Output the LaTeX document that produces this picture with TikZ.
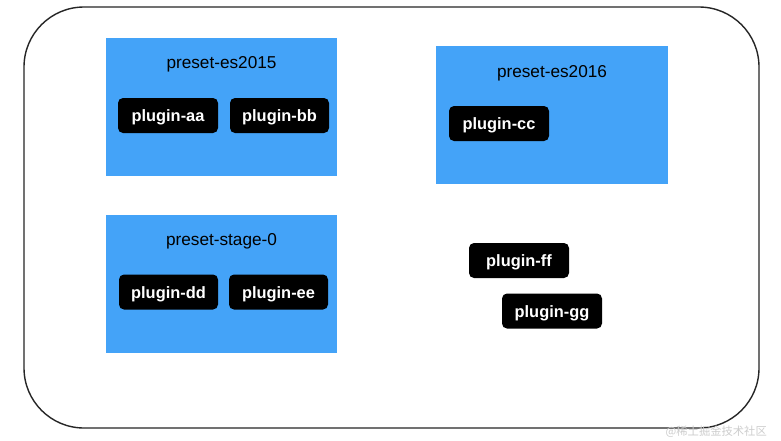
\documentclass[tikz,border=0pt]{standalone}
\usepackage{fontspec}
\setmainfont{Liberation Sans}
\newfontfamily\cjkfont{Noto Sans CJK SC}
\definecolor{presetblue}{RGB}{68,163,248}
\definecolor{wmgray}{RGB}{205,205,205}
\tikzset{
  presetbox/.style={fill=presetblue, draw=none, minimum width=231pt, minimum height=138pt, inner sep=0pt},
  presettitle/.style={font=\fontsize{17.2}{19}\selectfont, text=black, inner sep=0pt},
  pluginbox/.style={fill=black, rounded corners=5pt, minimum width=100pt, minimum height=35pt, inner sep=0pt,
    text=white, font=\fontsize{16.4}{18}\selectfont\bfseries},
  pluginlabel/.style={text=white, font=\fontsize{16.4}{18}\selectfont\bfseries, inner sep=0pt, yshift=-2pt},
  frame/.style={draw=black!85, line width=1.4pt, rounded corners=60pt}
}
\begin{document}
\begin{tikzpicture}[x=1pt,y=-1pt]
\useasboundingbox (0,0) rectangle (781,440);
\fill[white] (0,0) rectangle (781,440);
\draw[frame] (24,7) rectangle (759,428);
% preset boxes
\node[presetbox] (es2015) at (221.5,106.5) {};
\node[presetbox, minimum width=232pt] (es2016) at (552,115) {};
\node[presetbox] (stage0) at (221.5,284) {};
\node[presettitle] (t2015) at (221.5,64.5) {preset-es2015};
\node[presettitle] (t2016) at (552,73.5) {preset-es2016};
\node[presettitle] (tstage) at (221.5,241.5) {preset-stage-0};
% plugins
\node[pluginbox] (aa) at (168,115.5) {};
\node[pluginbox, minimum width=99pt] (bb) at (279.5,115.5) {};
\node[pluginbox] (cc) at (499,123.5) {};
\node[pluginbox, minimum width=99pt] (dd) at (168.5,292) {};
\node[pluginbox, minimum width=99pt] (ee) at (278.5,292) {};
\node[pluginbox] (ff) at (519,260.5) {};
\node[pluginbox] (gg) at (552,311) {};
\node[pluginlabel] (laa) at (aa) {plugin-aa};
\node[pluginlabel] (lbb) at (bb) {plugin-bb};
\node[pluginlabel] (lcc) at (cc) {plugin-cc};
\node[pluginlabel] (ldd) at (dd) {plugin-dd};
\node[pluginlabel] (lee) at (ee) {plugin-ee};
\node[pluginlabel] (lff) at (ff) {plugin-ff};
\node[pluginlabel] (lgg) at (gg) {plugin-gg};
% watermark
\node[anchor=east, inner sep=0pt, text=wmgray, font=\cjkfont\fontsize{11.3}{13}\selectfont] (wm) at (767,432) {@稀土掘金技术社区};
\end{tikzpicture}
\end{document}
